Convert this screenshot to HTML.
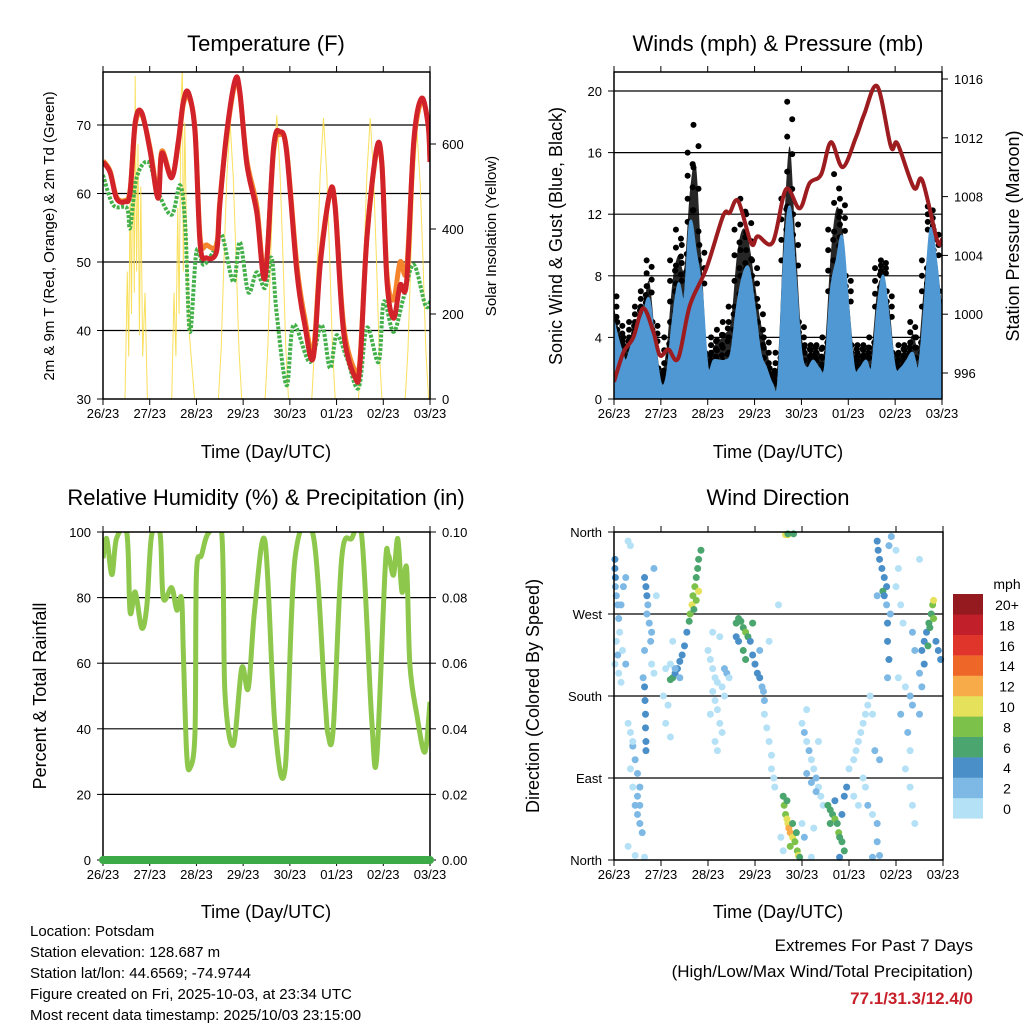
<!DOCTYPE html>
<html><head><meta charset="utf-8"><style>
html,body{margin:0;padding:0;background:#fff;}
svg text{font-family:"Liberation Sans",Arial,sans-serif;}
</style></head><body>
<svg id="s" xmlns="http://www.w3.org/2000/svg" width="1024" height="1024" viewBox="0 0 1024 1024">
<defs>
<clipPath id="clipRH"><rect x="103" y="532" width="327" height="328"/></clipPath>
<clipPath id="clipT"><rect x="103" y="72" width="327" height="327"/></clipPath>
<clipPath id="clipW"><rect x="614" y="72" width="328" height="327"/></clipPath>
</defs>
<rect width="1024" height="1024" fill="#fff"/>
<text x="266" y="51" font-size="22" text-anchor="middle">Temperature (F)</text>
<text x="778" y="51" font-size="22" text-anchor="middle">Winds (mph) &amp; Pressure (mb)</text>
<text x="266" y="505" font-size="22" text-anchor="middle">Relative Humidity (%) &amp; Precipitation (in)</text>
<text x="778" y="505" font-size="22" text-anchor="middle">Wind Direction</text>
<text x="266" y="458" font-size="18" text-anchor="middle">Time (Day/UTC)</text>
<text x="778" y="458" font-size="18" text-anchor="middle">Time (Day/UTC)</text>
<text x="266" y="918" font-size="18" text-anchor="middle">Time (Day/UTC)</text>
<text x="778" y="918" font-size="18" text-anchor="middle">Time (Day/UTC)</text>
<text transform="translate(54,236) rotate(-90)" font-size="15" text-anchor="middle">2m &amp; 9m T (Red, Orange) &amp; 2m Td (Green)</text>
<text transform="translate(496,236) rotate(-90)" font-size="15" text-anchor="middle">Solar Insolation (Yellow)</text>
<text transform="translate(562,236) rotate(-90)" font-size="18" text-anchor="middle">Sonic Wind &amp; Gust (Blue, Black)</text>
<text transform="translate(1019,236) rotate(-90)" font-size="18" text-anchor="middle">Station Pressure (Maroon)</text>
<text transform="translate(46,696) rotate(-90)" font-size="18" text-anchor="middle">Percent &amp; Total Rainfall</text>
<text transform="translate(539,696) rotate(-90)" font-size="18" text-anchor="middle">Direction (Colored By Speed)</text>
<g font-size="15">
<text x="30" y="936">Location: Potsdam</text>
<text x="30" y="957">Station elevation: 128.687 m</text>
<text x="30" y="978">Station lat/lon: 44.6569; -74.9744</text>
<text x="30" y="999">Figure created on Fri, 2025-10-03, at 23:34 UTC</text>
<text x="30" y="1020">Most recent data timestamp: 2025/10/03 23:15:00</text>
</g>
<g font-size="17" text-anchor="end">
<text x="973" y="951">Extremes For Past 7 Days</text>
<text x="973" y="977">(High/Low/Max Wind/Total Precipitation)</text>
<text x="973" y="1004" fill="#c8202a" font-weight="bold">77.1/31.3/12.4/0</text>
</g>
</svg>
<script>
const dayLabels=["26/23","27/23","28/23","29/23","30/23","01/23","02/23","03/23"];
// Temperature (t in days since 26/23)
const tempT=[0,0.15,0.29,0.47,0.58,0.69,0.83,1.01,1.18,1.26,1.47,1.61,1.72,1.83,1.97,2.08,2.22,2.43,2.5,2.65,2.83,2.93,3.08,3.29,3.47,3.65,3.79,3.93,4.15,4.32,4.5,4.65,4.86,4.97,5.15,5.4,5.5,5.65,5.86,5.97,6.08,6.22,6.36,6.5,6.65,6.82,6.96,7.0];
const temp2m=[64.6,63.1,59.3,58.8,60.2,70.4,71.8,66.1,59.3,65.9,62.3,67.5,73.4,74.7,69,52.5,50.6,51.5,58.3,69,76.6,74.8,64.2,57.3,47.7,66.6,69,66.1,48.5,40.8,36,49.6,60.2,57.9,39.8,33.1,35,53.5,66.6,64.2,47.1,41.8,46.6,47.1,67.5,73.9,70,64.6];
const temp9m=[64.8,63.3,59.5,59.0,60.5,70.0,71.5,66.5,59.8,66.2,62.5,67.2,73.0,74.2,69.4,53.5,52.5,52.5,58.8,68.6,76.2,74.5,64.8,58.2,48.2,66.0,68.6,66.4,49.5,41.8,37,50.4,60.0,58.2,40.8,34.0,35.6,53.8,66.2,64.5,48.2,44.5,50.0,49.0,67.0,73.5,70.2,65];
const dewT=[0,0.22,0.51,0.58,0.72,0.97,1.18,1.47,1.65,1.76,1.86,2.0,2.15,2.36,2.54,2.79,2.93,3.11,3.29,3.47,3.61,3.72,3.93,4.08,4.43,4.68,4.86,5.0,5.22,5.47,5.65,5.9,6.01,6.22,6.43,6.65,6.9,7.0];
const dewpoint=[62.7,58.3,57.9,55,62.3,64.6,60.2,56.9,61.2,55.4,39.8,51.5,49.6,51.5,54,47.1,52.9,45.6,48.5,46.2,50.6,42.3,32,40.8,35.4,40.8,34.5,39.3,36,31.6,40.4,35.4,44.2,39.8,44.7,49.6,43.7,44.2];
const solarT=[0.47,0.52,0.55,0.58,0.61,0.64,0.67,0.69,0.72,0.75,0.78,0.81,0.85,0.9,0.95,
1.47,1.52,1.56,1.6,1.63,1.67,1.7,1.72,1.75,1.8,1.85,1.9,1.96,
2.47,2.53,2.59,2.65,2.72,2.79,2.85,2.91,2.97,
3.47,3.53,3.59,3.65,3.72,3.79,3.85,3.91,3.97,
4.47,4.53,4.59,4.65,4.72,4.79,4.85,4.91,4.97,
5.47,5.53,5.59,5.65,5.72,5.79,5.85,5.91,5.97,
6.47,6.53,6.59,6.65,6.72,6.79,6.85,6.91,6.97];
const solar=[0,300,100,500,200,650,250,760,300,600,150,500,100,250,0,
0,250,100,450,200,700,780,300,650,300,150,80,0,
0,120,330,520,650,520,330,120,0,
0,125,340,535,668,535,340,125,0,
0,124,338,530,661,530,338,124,0,
0,124,338,530,661,530,338,124,0,
0,118,325,505,633,505,325,118,0];
// Winds
const windT=[0,.125,.25,.375,.5,.625,.75,.875,1,1.125,1.25,1.375,1.5,1.625,1.75,1.875,2,2.125,2.25,2.375,2.5,2.625,2.75,2.875,3,3.125,3.25,3.375,3.5,3.625,3.75,3.875,4,4.125,4.25,4.375,4.5,4.625,4.75,4.875,5,5.125,5.25,5.375,5.5,5.625,5.75,5.875,6,6.125,6.25,6.375,6.5,6.625,6.75,6.875,7];
const windHi=[5,3.5,2.5,3.5,4.5,5.5,6.5,3.5,1,1.5,5,7.5,6.5,11.5,9.5,7,2,2.5,2.5,2.5,3,6,8,8.5,6,3,2,1,1,9,12.5,8,3,2,2.5,2,2,7,9,10.5,6,2,2,2.5,2,6,8,5,2,2,2.5,3,2,6,11,9,5];
const windLo=[1,0.5,0.3,0.5,1,1.5,2,0.5,0,0.2,1.5,2.5,2,4,3,2,0.2,0.3,0.3,0.3,0.5,2,3,3,2,0.5,0.2,0,0,3,5,3,0.5,0.2,0.3,0.2,0.2,2.5,4,4,2,0.2,0.2,0.3,0.2,2,3,1.5,0.2,0.2,0.3,0.5,0.2,2,4,3,1.5];
const gust=[7,5,4,5,6,7,9,5,2,4,9,11,10,16,17.8,10,3,4,4.5,5,6,11,13,12,9,6,4,2,3,13,19.3,12,5,3.5,3.5,3.5,4,11,14.6,13,8,3.5,3.5,3.5,4,8.5,9,7,3,3.5,3.5,5,4,9,12.5,11,7];
const presT=[0,0.2,0.41,0.62,0.84,0.98,1.16,1.37,1.62,1.97,2.33,2.47,2.65,2.93,3.07,3.39,3.67,3.96,4.17,4.42,4.63,4.88,5.16,5.34,5.62,5.91,6.05,6.4,6.58,6.9,7.0];
const pressure=[995.4,997.4,998.4,1000.4,998.8,997.2,997.6,997.0,1000.6,1003.1,1006.7,1006.9,1007.7,1004.8,1005.3,1004.9,1008.5,1007.2,1008.9,1009.5,1011.7,1010.0,1012.0,1013.6,1015.5,1011.4,1011.6,1008.6,1009.1,1005.0,1005.1];
// Relative humidity
const rhT=[0,.08,.19,.29,.51,.58,.69,.83,.94,1.04,1.22,1.29,1.47,1.58,1.68,1.72,1.79,1.86,1.97,2.0,2.11,2.26,2.54,2.61,2.79,2.97,3.11,3.25,3.47,3.68,3.9,4.11,4.5,4.75,4.82,4.93,5.11,5.32,5.54,5.75,5.86,6.04,6.11,6.22,6.31,6.4,6.5,6.57,6.72,6.89,7.0];
const rh=[92,98,87,98,99.7,75.6,81.7,70.7,77.7,99,99.7,79.9,83,76.2,79.9,63.4,32.9,28,39,86.9,93,99.7,99.7,51.2,35,58.5,52.4,76.8,97,41.2,28,92,99,49.4,38.1,40.2,92,98,98.5,43.3,31.1,89,93,86.9,98,81.7,89,59.5,44.2,32.9,48.2];
const precip=[0,0,0,0,0,0,0,0];
// Wind direction scatter (t days, degrees, mph)
const dirT=[0.02,0.02,0.03,0.03,0.05,0.08,0.1,0.12,0.05,0.08,0.02,0.1,0.15,0.2,0.25,0.15,0.3,0.35,0.18,0.25,
0.3,0.35,0.4,0.45,0.5,0.55,0.5,0.45,0.5,0.55,0.35,0.4,0.6,0.55,0.4,0.3,0.45,0.65,
0.65,0.68,0.7,0.72,0.7,0.75,0.8,0.78,0.65,0.62,0.65,0.66,0.67,0.67,0.68,0.68,0.8,0.85,0.9,0.85,
1.2,1.25,1.3,1.35,1.4,1.45,1.5,1.55,1.6,1.62,1.66,1.68,1.72,1.75,1.78,1.8,1.85,1.8,1.75,1.7,1.3,1.4,1.2,1.1,1.05,1.15,1.1,1.2,1.25,
2.0,2.05,2.1,2.15,2.2,2.1,2.15,2.2,2.25,2.3,2.35,2.4,2.45,2.3,2.05,2.1,2.25,2.35,2.15,2.2,
2.6,2.65,2.7,2.75,2.8,2.85,2.9,2.65,2.75,2.8,2.95,3.0,3.05,3.1,3.15,3.18,3.2,2.6,2.95,
3.2,3.25,3.3,3.35,3.35,3.4,3.42,3.3,3.1,3.5,
3.6,3.62,3.65,3.68,3.7,3.72,3.75,3.8,3.85,3.9,3.92,3.95,3.68,3.8,3.75,3.88,3.7,3.82,3.55,3.6,
4.0,4.05,4.1,4.15,4.2,4.25,4.3,4.35,4.4,4.1,4.2,4.3,4.45,4.0,4.05,4.25,4.35,4.2,4.1,
4.55,4.6,4.65,4.7,4.75,4.78,4.8,4.85,4.9,4.6,4.7,4.85,4.9,4.95,4.8,
5.0,5.1,5.15,5.2,5.25,5.3,5.35,5.4,5.45,5.5,5.3,5.35,5.4,5.5,5.6,5.1,5.2,5.55,5.65,5.6,5.65,5.5,
5.6,5.62,5.65,5.7,5.75,5.8,5.72,5.75,5.8,5.85,5.9,5.88,5.82,5.82,5.85,5.82,5.6,
6.0,6.05,6.0,6.1,6.15,6.05,6.2,6.3,6.35,6.25,6.3,6.2,6.3,6.35,6.4,6.1,6.5,6.4,6.35,
6.55,6.6,6.65,6.7,6.75,6.78,6.8,6.72,6.68,6.85,6.9,6.95,6.8,6.6,6.5,6.55,6.5,
3.65,3.7];
const dirDeg=[330,320,310,300,290,280,265,250,240,225,215,205,195,300,310,280,350,345,230,215,
150,140,125,110,95,80,70,60,50,40,100,80,30,60,130,15,5,3,
310,300,290,280,270,260,250,240,230,200,190,175,160,145,130,120,215,205,290,320,
198,200,205,210,218,225,235,250,262,270,280,290,300,310,320,330,340,295,285,275,210,200,215,210,180,170,150,135,240,
230,220,210,200,195,185,175,165,150,140,210,205,200,190,160,250,245,180,130,120,
260,265,262,255,250,245,240,240,230,220,225,215,205,200,190,185,175,245,260,
160,145,130,115,100,90,80,240,230,280,
70,60,50,45,40,35,30,25,20,10,5,3,65,40,15,30,357,358,25,10,
150,140,130,120,110,100,90,80,70,95,85,75,60,40,25,35,130,3,165,
60,55,50,45,40,30,25,20,10,40,65,50,70,80,3,
100,110,120,130,140,150,160,170,180,160,90,80,60,50,40,70,60,120,110,20,5,3,
350,340,330,320,310,300,295,290,280,345,355,270,260,240,220,200,290,
340,320,300,280,260,200,190,180,170,140,120,100,80,60,40,160,330,230,250,
230,240,250,260,270,280,285,255,235,240,230,220,265,215,205,190,160,
357,358];
const dirSpd=[4,4,4,3,3,2,2,1,1,2,1,1,1,2,3,2,1,1,1,2,
1,1,2,2,2,2,3,2,2,3,1,1,2,2,1,1,1,1,
4,4,5,3,3,3,2,2,2,2,4,4,4,4,4,4,1,1,1,2,
6,6,4,4,4,4,4,4,6,8,10,9,8,7,6,6,6,10,8,7,3,2,1,1,1,1,1,1,1,
1,1,1,1,1,1,1,1,1,1,2,2,1,1,1,1,1,1,1,1,
6,6,7,6,8,6,5,4,6,6,4,4,4,4,3,2,2,4,7,
1,1,1,1,1,1,1,1,2,1,
7,8,9,10,11,12,13,10,9,8,10,6,6,7,9,7,10,7,1,1,
1,2,1,2,1,1,2,1,1,2,2,2,1,1,2,1,1,1,1,
6,7,6,8,7,9,6,6,6,6,5,4,4,4,5,
1,1,1,1,1,1,1,1,1,1,1,1,2,1,2,1,1,3,3,3,3,2,
4,4,4,4,4,4,6,4,3,3,3,2,4,4,4,3,2,
1,1,1,1,1,1,1,2,3,2,1,1,1,1,1,2,1,2,2,
4,4,5,6,7,8,10,6,6,4,4,4,8,4,3,2,2,
10,7];
const speedLabels=["0","2","4","6","8","10","12","14","16","18","20+"];
const speedColors=["#b5e1f6","#7db9e4","#4a8fc8","#4aa56e","#7cc24a","#e6e15a","#f7ab49","#ef6629","#e0352b","#c11f2a","#951a1f"];

const svg=document.getElementById('s');
const NS='http://www.w3.org/2000/svg';
function el(tag,attrs,parent){const e=document.createElementNS(NS,tag);for(const k in attrs)e.setAttribute(k,attrs[k]);(parent||svg).appendChild(e);return e;}
function txt(x,y,s,size,anchor,parent){const t=el('text',{x:x,y:y,'font-size':size,'text-anchor':anchor},parent);t.textContent=s;return t;}
function path(xs,ys){return xs.map((x,i)=>(i?'L':'M')+x.toFixed(1)+','+ys[i].toFixed(1)).join('');}
function smooth(xs,ys){let d='M'+xs[0].toFixed(1)+','+ys[0].toFixed(1);const n=xs.length;
  for(let i=0;i<n-1;i++){const i0=Math.max(0,i-1),i3=Math.min(n-1,i+2);
    const c1x=xs[i]+(xs[i+1]-xs[i0])/6,c1y=ys[i]+(ys[i+1]-ys[i0])/6;
    const c2x=xs[i+1]-(xs[i3]-xs[i])/6,c2y=ys[i+1]-(ys[i3]-ys[i])/6;
    d+='C'+c1x.toFixed(1)+','+c1y.toFixed(1)+' '+c2x.toFixed(1)+','+c2y.toFixed(1)+' '+xs[i+1].toFixed(1)+','+ys[i+1].toFixed(1);}
  return d;}

function panel(name,x0,x1,y0,y1){
  const g=el('g',{});
  
  
  return {g,x0,x1,y0,y1,xs:t=>x0+t*(x1-x0)/7};
}
function frame(p,gridYs,labelPrefix){
  const ax=el('g',{},p.g);
  
  
  gridYs.forEach(y=>el('line',{x1:p.x0,x2:p.x1,y1:y,y2:y,stroke:'#000','stroke-width':1.2},ax));
  for(let d=0;d<=7;d++){const x=p.xs(d);
    el('line',{x1:x,x2:x,y1:p.y1,y2:p.y1+6,stroke:'#000','stroke-width':1},ax);
    el('line',{x1:x,x2:x,y1:p.y0,y2:p.y0-6,stroke:'#000','stroke-width':1},ax);
    const t=txt(x,p.y1+19,dayLabels[d],13,'middle',ax);
    
    
  }
}
function border(p){el('rect',{x:p.x0,y:p.y0,width:p.x1-p.x0,height:p.y1-p.y0,fill:'none',stroke:'#000','stroke-width':1.5},p.g);}
function yTicks(p,vals,fy,labels,side,parent){
  vals.forEach((v,i)=>{const y=fy(v);
    if(side==='l'){el('line',{x1:p.x0-6,x2:p.x0,y1:y,y2:y,stroke:'#000'},parent);
      const t=txt(p.x0-12,y+5,labels[i],13,'end',parent);}
    else{el('line',{x1:p.x1,x2:p.x1+6,y1:y,y2:y,stroke:'#000'},parent);
      const t=txt(p.x1+12,y+5,labels[i],13,'start',parent);}
  });
}

// ---- Panel 1: Temperature
const p1=panel('temperature-chart',103,430,72,399);
const fyT=v=>399-(v-30)*6.85, fyS=v=>399-v*0.425;
frame(p1,[fyT(40),fyT(50),fyT(60),fyT(70)],'temperature');
yTicks(p1,[30,40,50,60,70],fyT,['30','40','50','60','70'],'l',p1.g);
yTicks(p1,[0,200,400,600],fyS,['0','200','400','600'],'r',p1.g);
const g1=el('g',{'clip-path':'url(#clipT)'},p1.g);
let e;
e=el('path',{d:path(solarT.map(p1.xs),solar.map(fyS)),fill:'none',stroke:'#f8dd4a','stroke-width':1,opacity:0.9},g1);


e=el('path',{d:smooth(dewT.map(p1.xs),dewpoint.map(fyT)),fill:'none',stroke:'#44b04a','stroke-width':4,'stroke-dasharray':'3 1.5','stroke-linejoin':'round'},g1);


e=el('path',{d:smooth(tempT.map(p1.xs),temp9m.map(fyT)),fill:'none',stroke:'#f4852c','stroke-width':5,'stroke-linejoin':'round'},g1);


e=el('path',{d:smooth(tempT.map(p1.xs),temp2m.map(fyT)),fill:'none',stroke:'#d2222a','stroke-width':5,'stroke-linejoin':'round'},g1);


border(p1);

// ---- Panel 2: Winds
const p2=panel('winds-chart',614,942,72,399);
const fyW=v=>399-v*15.4, fyP=v=>373-(v-996)*14.7;
frame(p2,[fyW(4),fyW(8),fyW(12),fyW(16),fyW(20)],'winds');
yTicks(p2,[0,4,8,12,16,20],fyW,['0','4','8','12','16','20'],'l',p2.g);
yTicks(p2,[996,1000,1004,1008,1012,1016],fyP,['996','1000','1004','1008','1012','1016'],'r',p2.g);
const g2=el('g',{'clip-path':'url(#clipW)'},p2.g);
const wx=windT.map(p2.xs);
windT.forEach((t,i)=>{const top=gust[i],bot=windHi[i];
  for(let k=0;k<=6;k++){const v=bot+(top-bot)*k/6;
    const c=el('circle',{cx:wx[i]+(k%2?2.5:-2.5),cy:fyW(v),r:3,fill:'#000'},g2);
    
    }});
e=el('path',{d:smooth(wx,gust.map(v=>fyW(v*0.85)))+'L'+wx[wx.length-1]+','+fyW(0)+'L'+wx[0]+','+fyW(0)+'Z',fill:'#000',opacity:0.85},g2);


e=el('path',{d:smooth(wx,windHi.map(fyW))+'L'+wx[wx.length-1]+','+fyW(0)+'L'+wx[0]+','+fyW(0)+'Z',fill:'#4f98d3',stroke:'#4f98d3','stroke-width':2},g2);


e=el('path',{d:smooth(presT.map(p2.xs),pressure.map(fyP)),fill:'none',stroke:'#9c1c20','stroke-width':4,'stroke-linejoin':'round'},g2);


border(p2);

// ---- Panel 3: RH
const p3=panel('humidity-chart',103,430,532,860);
const fyR=v=>860-v*3.28, fyPr=v=>860-v*3280;
frame(p3,[fyR(20),fyR(40),fyR(60),fyR(80)],'humidity');
yTicks(p3,[0,20,40,60,80,100],fyR,['0','20','40','60','80','100'],'l',p3.g);
yTicks(p3,[0,0.02,0.04,0.06,0.08,0.1],fyPr,['0.00','0.02','0.04','0.06','0.08','0.10'],'r',p3.g);
const g3=el('g',{'clip-path':'url(#clipRH)'},p3.g);
e=el('path',{d:smooth(rhT.map(p3.xs),rh.map(fyR)),fill:'none',stroke:'#8dc84d','stroke-width':5,'stroke-linejoin':'round'},g3);


border(p3);
e=el('path',{d:path(precip.map((v,i)=>p3.xs(i)),precip.map(fyPr)),fill:'none',stroke:'#3daa48','stroke-width':8,'stroke-linecap':'round'},p3.g);



// ---- Panel 4: Wind direction
const p4=panel('wind-direction-chart',614,943,532,860);
const fyD=v=>860-v*328/360;
frame(p4,[fyD(90),fyD(180),fyD(270)],'direction');
yTicks(p4,[0,90,180,270,360],fyD,['North','East','South','West','North'],'l',p4.g);
dirT.forEach((t,i)=>{const k=Math.min(10,Math.floor(dirSpd[i]/2));
  const c=el('circle',{cx:p4.xs(t),cy:fyD(dirDeg[i]),r:3.5,fill:speedColors[k]},p4.g);
  
  });
border(p4);

// legend
const lg=el('g',{});


txt(1007,589,'mph',14,'middle',lg);
speedColors.forEach((c,i)=>{const y=594+(10-i)*20.4;
  const r=el('rect',{x:953,y:y,width:30,height:20.6,fill:c},lg);
  
  
  txt(1007,y+16,speedLabels[i],14,'middle',lg);});
</script>
</body></html>
